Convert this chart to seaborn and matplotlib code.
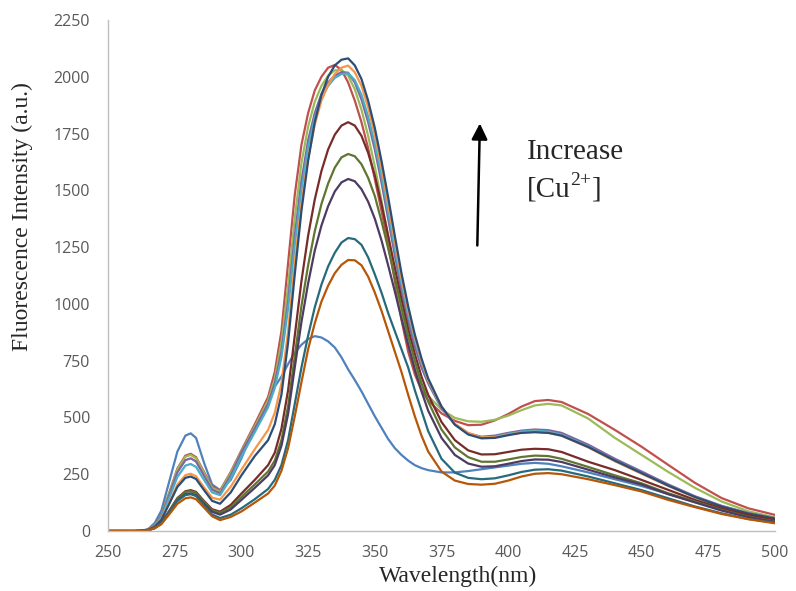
import matplotlib
matplotlib.use('Agg')
import pandas as pd
import matplotlib.pyplot as plt
import seaborn as sns

# emission spectra (nm, a.u.)
wavelength = [250, 260, 262.5, 265, 267.5, 270, 273, 276, 279, 281, 283, 286, 289, 292,
              296, 300,
              305, 310, 312.5, 315, 317.5, 320, 322.5, 325, 327.5, 330, 332.5, 335,
              337.5, 340, 342.5, 345, 347.5, 350, 352.5, 355, 357.5, 360, 362.5, 365,
              367.5, 370, 375,
              380, 385, 390, 395, 400, 405, 410, 415, 420, 430, 440, 450, 460, 470,
              480, 490, 500]

blue = [0, 0, 1, 8, 35, 90, 220, 350, 420, 430, 410, 300, 205, 180, 225, 320,
        460, 585, 635, 680, 735, 785, 820, 845, 858, 852, 835, 808,
        765, 712, 665, 615, 560, 505, 455, 405, 365, 335, 310, 290,
        277, 268, 258,
        258, 264, 272, 280, 288, 296, 300, 296, 285, 258, 228, 198, 163, 128,
        96, 70, 48]
red = [0, 0, 1, 6, 27, 70, 170, 275, 332, 340, 325, 260, 195, 178, 260, 355,
       470, 590, 700, 880, 1180, 1480, 1700, 1840, 1940, 2000, 2040, 2052,
       2030, 1975, 1895, 1800, 1685, 1550, 1410, 1270, 1100, 930, 790, 690,
       620, 575, 518,
       485, 466, 468, 487, 515, 548, 572, 577, 568, 515, 445, 371, 291, 212,
       145, 100, 71]
green = [0, 0, 1, 6, 26, 68, 167, 270, 327, 335, 320, 255, 190, 173, 255, 350,
         460, 575, 670, 830, 1080, 1380, 1620, 1780, 1890, 1960, 2005, 2028,
         2030, 2005, 1945, 1855, 1740, 1605, 1455, 1300, 1135, 965, 825, 720,
         645, 595, 535,
         498, 483, 481, 490, 508, 532, 553, 560, 553, 495, 410, 335, 260, 190,
         130, 87, 60]
purple = [0, 0, 1, 6, 25, 65, 160, 258, 312, 320, 306, 243, 182, 166, 245, 345,
          450, 560, 650, 790, 1010, 1300, 1540, 1720, 1840, 1925, 1975, 2005,
          2020, 2018, 1975, 1900, 1800, 1680, 1535, 1375, 1215, 1060, 925, 815,
          720, 650, 540,
          470, 430, 415, 420, 432, 442, 447, 444, 432, 380, 318, 262, 205, 153,
          111, 79, 57]
aqua = [0, 0, 1, 5, 23, 60, 148, 238, 288, 295, 282, 225, 170, 158, 232, 328,
        435, 545, 630, 765, 980, 1260, 1500, 1690, 1820, 1905, 1960, 1995,
        2012, 2015, 1985, 1920, 1825, 1705, 1565, 1405, 1245, 1090, 955, 840,
        740, 660, 545,
        470, 428, 412, 415, 428, 438, 442, 438, 425, 372, 310, 255, 200, 150,
        108, 77, 55]
orange = [0, 0, 1, 5, 20, 52, 127, 204, 246, 252, 241, 192, 147, 138, 195, 270,
          360, 445, 520, 650, 880, 1180, 1440, 1640, 1790, 1895, 1965, 2012,
          2040, 2049, 2020, 1960, 1865, 1745, 1600, 1440, 1275, 1115, 975, 855,
          750, 665, 548,
          472, 432, 412, 413, 424, 434, 437, 433, 420, 368, 307, 252, 198, 148,
          107, 76, 54]
dark_blue = [0, 0, 1, 5, 19, 49, 121, 194, 234, 240, 229, 180, 133, 120, 170, 245,
             330, 400, 470, 600, 830, 1130, 1410, 1630, 1800, 1920, 2000, 2050,
             2075, 2081, 2050, 1990, 1895, 1775, 1630, 1470, 1300, 1135, 990, 865,
             760, 672, 548,
             468, 425, 408, 410, 422, 432, 435, 432, 420, 370, 310, 255, 200, 150,
             108, 77, 55]
dark_red = [0, 0, 1, 4, 14, 37, 90, 145, 175, 180, 172, 132, 96, 85, 115, 165,
            225, 290, 345, 450, 620, 860, 1100, 1300, 1460, 1585, 1680, 1745,
            1785, 1800, 1785, 1740, 1665, 1565, 1440, 1300, 1160, 1020, 890, 780,
            680, 600, 480,
            400, 355, 337, 338, 348, 358, 362, 360, 348, 305, 268, 225, 181, 137,
            100, 71, 49]
dark_green = [0, 0, 1, 4, 14, 36, 88, 142, 172, 176, 168, 128, 92, 80, 105, 150,
              205, 262, 310, 400, 550, 770, 990, 1170, 1320, 1440, 1530, 1600,
              1645, 1660, 1650, 1615, 1555, 1475, 1365, 1245, 1115, 985, 860, 750,
              650, 570, 447,
              368, 325, 305, 305, 315, 326, 332, 330, 318, 282, 245, 210, 166, 130,
              93, 63, 42]
dark_purple = [0, 0, 0, 3, 13, 34, 83, 134, 162, 166, 158, 120, 85, 72, 95, 137,
               190, 245, 290, 375, 515, 720, 920, 1090, 1235, 1345, 1430, 1495,
               1535, 1550, 1540, 1505, 1450, 1375, 1280, 1170, 1055, 935, 820, 710,
               615, 530, 410,
               335, 297, 283, 285, 296, 308, 315, 314, 304, 270, 236, 205, 162, 126,
               90, 61, 40]
dark_aqua = [0, 0, 0, 3, 13, 34, 82, 133, 158, 162, 154, 113, 73, 57, 72, 100,
             140, 185, 225, 290, 400, 560, 720, 860, 985, 1085, 1165, 1225,
             1270, 1290, 1285, 1260, 1205, 1130, 1050, 960, 880, 800, 720, 620,
             530, 440, 318,
             257, 234, 228, 232, 245, 260, 270, 272, 266, 240, 210, 180, 144, 108,
             78, 53, 37]
dark_orange = [0, 0, 0, 3, 12, 30, 74, 120, 144, 148, 140, 103, 65, 48, 62, 86,
               125, 165, 200, 265, 365, 505, 655, 800, 915, 1010, 1080, 1135,
               1172, 1193, 1192, 1170, 1120, 1050, 970, 880, 790, 700, 600, 505,
               420, 350, 262,
               222, 207, 204, 208, 222, 240, 252, 255, 250, 228, 202, 174, 137, 105,
               75, 52, 34]

series = [blue, red, green, purple, aqua, orange,
          dark_blue, dark_red, dark_green, dark_purple, dark_aqua, dark_orange]
colors = ['#4F81BD', '#C0504D', '#9BBB59', '#8064A2', '#4BACC6', '#F79646',
          '#2C4D75', '#772C2A', '#5F7530', '#4D3B62', '#276A7C', '#B65708']

frames = []
for i, vals in enumerate(series):
    frames.append(pd.DataFrame({'wl': wavelength, 'fi': vals, 's': i}))
df = pd.concat(frames, ignore_index=True)

sns.set_style('white')
plt.rcParams['font.family'] = ['Open Sans', 'DejaVu Sans']

fig = plt.figure(figsize=(7.96, 5.91), dpi=100)
ax = fig.add_axes([0.1357, 0.1015, 0.8379, 0.8647])

sns.lineplot(data=df, x='wl', y='fi', hue='s', palette=colors, legend=False,
             linewidth=1.6, estimator=None, ax=ax)

ax.set_xlim(250, 500)
ax.set_ylim(0, 2250)
ax.set_xticks(range(250, 501, 25))
ax.set_yticks(range(0, 2251, 250))
ax.tick_params(axis='both', length=0, labelsize=11.5, labelcolor='#595959')
ax.tick_params(axis='x', pad=10)
ax.tick_params(axis='y', pad=13)
ax.set_xlabel('')
ax.set_ylabel('')
for side in ['top', 'right']:
    ax.spines[side].set_visible(False)
for side in ['left', 'bottom']:
    ax.spines[side].set_color('#BFBFBF')
    ax.spines[side].set_linewidth(1)

serif = ['Liberation Serif', 'DejaVu Serif']
fig.text(458 / 796, 1 - 576 / 591, 'Wavelength(nm)', ha='center', va='center',
         family=serif, fontsize=17)
fig.text(22 / 796, 1 - 217 / 591, 'Fluorescence Intensity (a.u.)', ha='center',
         va='center', rotation=90, family=serif, fontsize=17)

ax.annotate('', xy=(389.4, 1807), xytext=(388.4, 1245),
            arrowprops=dict(arrowstyle='-|>', color='black', lw=1.8,
                            mutation_scale=24))
ax.text(407, 1669, 'Increase', fontsize=21, family=serif, va='center')
t1 = ax.text(407, 1502, '[Cu', fontsize=21, family=serif, va='center')
t2 = ax.annotate('2+', xy=(1, 0.52), xycoords=t1, fontsize=14, family=serif,
                 ha='left', va='bottom')
ax.annotate(']', xy=(1, 0), xycoords=(t2, t1), fontsize=21, family=serif,
            ha='left', va='bottom')

fig.savefig('out.png', dpi=100)
